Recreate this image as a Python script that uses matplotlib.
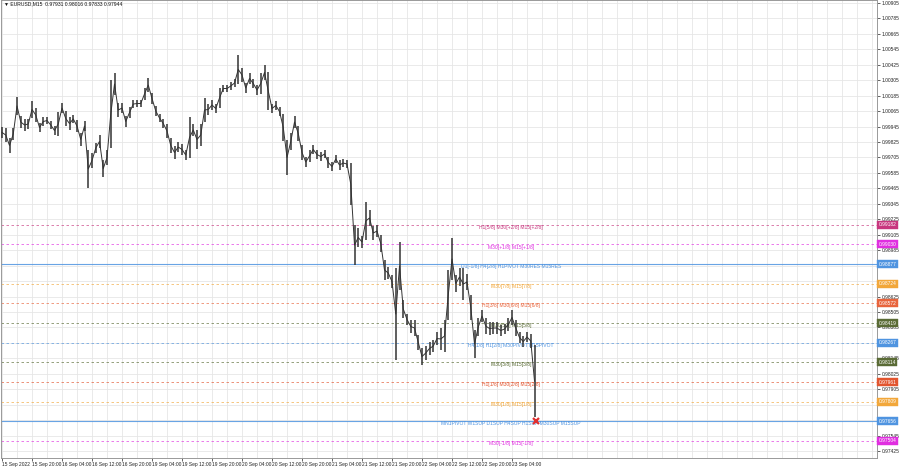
import matplotlib
matplotlib.use("Agg")
import matplotlib.pyplot as plt
import numpy as np

# ---------------- data ----------------
title_text = "\u25BC EURUSD,M15  0.97931 0.98016 0.97833 0.97944"

# hourly high / low of EURUSD M15
bar_high = [0.99942, 0.99934, 0.99856, 0.99934, 1.00175, 1.00027, 1.00004, 1.00004, 1.00144, 1.00089,
            0.99973, 1.00019, 1.00019, 0.99988, 0.99949, 1.00058, 1.00128, 1.00066, 1.00019, 1.00035,
            0.99996, 0.99895, 0.99988, 0.99763, 0.99740, 0.99817, 0.99880, 0.99685, 0.99763, 1.00307,
            1.00361, 1.00128, 1.00128, 1.00027, 1.00097, 1.00151, 1.00151, 1.00151, 1.00245, 1.00322,
            1.00206, 1.00105, 1.00043, 1.00004, 0.99965, 0.99856, 0.99794, 0.99825, 0.99810, 0.99763,
            1.00019, 0.99965, 0.99918, 0.99965, 1.00167, 1.00120, 1.00151, 1.00120, 1.00245, 1.00268,
            1.00268, 1.00291, 1.00314, 1.00501, 1.00400, 1.00283, 1.00361, 1.00314, 1.00268, 1.00361,
            1.00423, 1.00369, 1.00120, 1.00144, 1.00097, 1.00043, 0.99841, 0.99895, 1.00027, 0.99949,
            0.99802, 0.99709, 0.99763, 0.99802, 0.99763, 0.99747, 0.99763, 0.99709, 0.99670, 0.99724,
            0.99685, 0.99693, 0.99685, 0.99662, 0.99180, 0.99157, 0.99095, 0.99359, 0.99297, 0.99173,
            0.99180, 0.99103, 0.98909, 0.98854, 0.98792, 0.98846, 0.99048, 0.98598, 0.98489, 0.98443,
            0.98443, 0.98326, 0.98225, 0.98241, 0.98272, 0.98287, 0.98349, 0.98381, 0.98443, 0.98831,
            0.99080, 0.98792, 0.98846, 0.98846, 0.98800, 0.98637, 0.98365, 0.98458, 0.98520, 0.98458,
            0.98427, 0.98427, 0.98427, 0.98404, 0.98412, 0.98458, 0.98520, 0.98443, 0.98349, 0.98318,
            0.98349, 0.98334, 0.98248]
bar_low = [0.99856, 0.99825, 0.99740, 0.99841, 1.00035, 0.99934, 0.99911, 0.99926, 1.00011, 0.99980,
           0.99903, 0.99949, 0.99965, 0.99926, 0.99880, 0.99872, 1.00050, 0.99949, 0.99918, 0.99973,
           0.99903, 0.99794, 0.99911, 0.99468, 0.99623, 0.99740, 0.99779, 0.99553, 0.99647, 0.99779,
           1.00190, 1.00019, 1.00050, 0.99942, 1.00011, 1.00089, 1.00097, 1.00097, 1.00151, 1.00213,
           1.00120, 1.00027, 0.99980, 0.99934, 0.99856, 0.99740, 0.99693, 0.99747, 0.99724, 0.99685,
           0.99701, 0.99872, 0.99771, 0.99794, 0.99980, 1.00035, 1.00074, 1.00050, 1.00089, 1.00213,
           1.00213, 1.00229, 1.00252, 1.00276, 1.00291, 1.00206, 1.00276, 1.00245, 1.00190, 1.00198,
           1.00307, 1.00074, 1.00050, 1.00074, 1.00027, 0.99833, 0.99569, 0.99763, 0.99934, 0.99833,
           0.99685, 0.99631, 0.99670, 0.99732, 0.99693, 0.99678, 0.99701, 0.99623, 0.99600, 0.99662,
           0.99608, 0.99631, 0.99623, 0.99336, 0.98870, 0.99010, 0.99002, 0.99064, 0.99173, 0.99064,
           0.99087, 0.98971, 0.98753, 0.98761, 0.98691, 0.98132, 0.98676, 0.98458, 0.98404, 0.98342,
           0.98318, 0.98210, 0.98093, 0.98132, 0.98171, 0.98194, 0.98248, 0.98210, 0.98194, 0.98443,
           0.98753, 0.98660, 0.98707, 0.98598, 0.98676, 0.98443, 0.98148, 0.98318, 0.98427, 0.98334,
           0.98326, 0.98334, 0.98334, 0.98318, 0.98334, 0.98357, 0.98404, 0.98318, 0.98264, 0.98233,
           0.98272, 0.98225, 0.97689]

x_labels = ["15 Sep 2022", "15 Sep 20:00", "16 Sep 04:00", "16 Sep 12:00", "16 Sep 20:00",
            "19 Sep 04:00", "19 Sep 12:00", "19 Sep 20:00", "20 Sep 04:00", "20 Sep 12:00",
            "20 Sep 20:00", "21 Sep 04:00", "21 Sep 12:00", "21 Sep 20:00", "22 Sep 04:00",
            "22 Sep 12:00", "22 Sep 20:00", "23 Sep 04:00"]
hours_per_label = 8

y_tick_top = 1.00905
y_tick_bottom = 0.97425
y_tick_step = 0.0012

level_prices = [0.99182, 0.99030, 0.98877, 0.98724, 0.98572, 0.98419,
                0.98267, 0.98114, 0.97961, 0.97809, 0.97656, 0.97504]
level_texts = ["H1[5/8] M30[+2/8] M15[+2/8]",
               "M30[+1/8] M15[+1/8]",
               "D1[-1/8] H4[2/8] H1PIVOT M30RES M15RES",
               "M30[7/8] M15[7/8]",
               "H1[3/8] M30[6/8] M15[6/8]",
               "M30[5/8] M15[5/8]",
               "H4[1/8] H1[2/8] M30PIVOT M15PIVOT",
               "M30[3/8] M15[3/8]",
               "H1[1/8] M30[2/8] M15[2/8]",
               "M30[1/8] M15[1/8]",
               "MN1PIVOT W1SUP D1SUP H4SUP H1SUP M30SUP M15SUP",
               "M30[-1/8] M15[-1/8]"]
level_colors = ["#c8367e", "#e02ee0", "#4f94e0", "#f2a73a", "#e8643c", "#5a6b35",
                "#4f94e0", "#5a6b35", "#e2552f", "#f2a73a", "#4f94e0", "#e02ee0"]
level_solid = [False, False, True, False, False, False,
               False, False, False, False, True, False]
marker_price = 0.97656

# ---------------- figure ----------------
W, H = 900, 468
fig = plt.figure(figsize=(W / 100, H / 100), dpi=100)
fig.patch.set_facecolor("white")
FONT = ["Liberation Sans", "DejaVu Sans"]
plt.rcParams["font.family"] = FONT

AX_W = 876
ax = fig.add_axes([1 / W, 10 / H, AX_W / W, 458 / H])
hi = np.array(bar_high)
lo = np.array(bar_low)
n = len(hi)
xs = np.arange(n)

px_per_hour = 3.75
ax.set_xlim(-0.27, AX_W / px_per_hour - 0.27)
ax.set_ylim(0.97371, 1.00928)

# grid
yt = np.arange(y_tick_bottom, y_tick_top + 1e-9, y_tick_step)
for y in yt:
    ax.axhline(y, color="#e6e6e6", lw=0.6, zorder=0)
for h in np.arange(0, 240, 4):
    ax.axvline(h, color="#e6e6e6", lw=0.6, zorder=0)

# levels
mid_x = 135.7
for p, t, c, solid in zip(level_prices, level_texts, level_colors, level_solid):
    if solid:
        ax.axhline(p, color=c, lw=0.8, alpha=0.85, zorder=1)
    else:
        ax.axhline(p, color=c, lw=0.6, ls=(0, (3, 3)), alpha=0.75, zorder=1)
    ax.text(mid_x, p - 0.00001, t, color=c, fontsize=3.6, ha="center", va="top", zorder=2)
    ax.text(1.0015, p, f"{p:.5f}", transform=ax.get_yaxis_transform(), color="white",
            fontsize=3.5, ha="left", va="center", clip_on=False, zorder=6,
            bbox=dict(boxstyle="square,pad=0.3", fc=c, ec=c, lw=0.3))

# price bars
ax.vlines(xs, lo, hi, color="#333333", lw=1.1, zorder=4)
ax.plot(xs, (hi + lo) / 2, color="#333333", lw=0.7, zorder=4)

# marker
ax.plot(n - 1 + 0.4, marker_price, marker="x", color="#e03030", ms=5, mew=1.6, zorder=5)

# axes styling
for s in ax.spines.values():
    s.set_color("#999999")
    s.set_linewidth(0.7)
ax.yaxis.tick_right()
ax.set_yticks(yt)
tick_texts = []
for v in yt:
    if min(abs(v - p) for p in level_prices) < 0.00025:
        tick_texts.append("")  # hidden under the level price box
    else:
        tick_texts.append(f"{v:.5f}")
ax.set_yticklabels(tick_texts)
ax.tick_params(axis="y", labelsize=3.5, length=2, width=0.5, pad=1.5, colors="#222222")
xt = np.arange(len(x_labels)) * hours_per_label
ax.set_xticks(xt)
ax.set_xticklabels(x_labels, ha="left")
ax.tick_params(axis="x", labelsize=3.5, length=2, width=0.5, pad=1.2, colors="#222222")

fig.text(4 / W, 1 - 4 / H, title_text, fontsize=3.6, ha="left", va="center", color="#111111")

fig.savefig("out.png", dpi=100)
